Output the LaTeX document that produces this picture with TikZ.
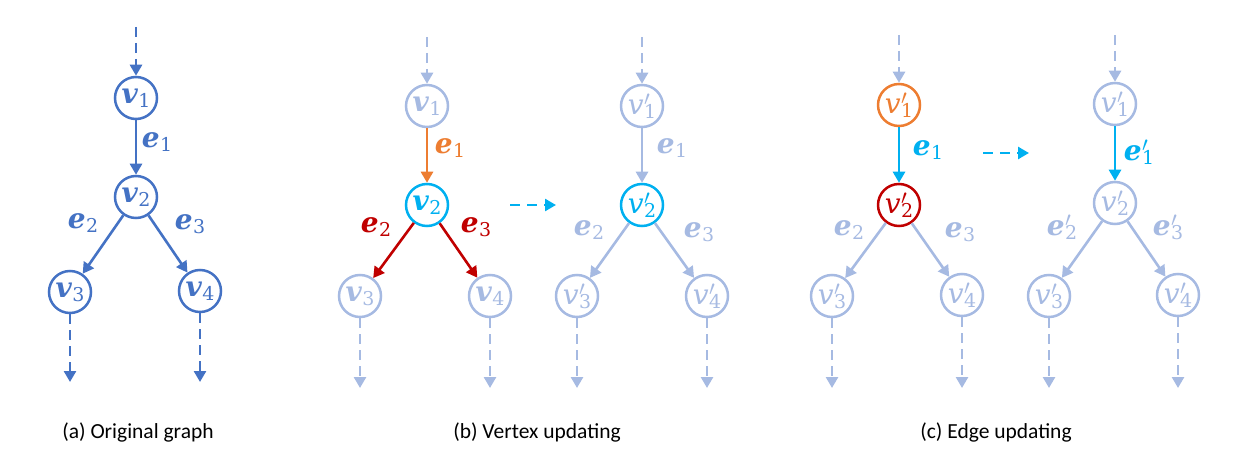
\documentclass[tikz,border=0pt]{standalone}
\usepackage{fontspec}
\setmainfont{Carlito}
\newfontfamily\mf{DejaVu Serif}
\usetikzlibrary{arrows.meta}
\definecolor{cblue}{HTML}{4472C4}
\definecolor{clight}{HTML}{A6BAE2}
\definecolor{corange}{HTML}{ED7D31}
\definecolor{cred}{HTML}{C00000}
\definecolor{ccyan}{HTML}{00B0F0}
\newcommand\subf{\fontsize{19}{19}\selectfont\mf\upshape\mdseries}
\newcommand\vfont{\fontsize{28}{28}\selectfont\mf\itshape}
\newcommand\efont{\fontsize{28}{28}\selectfont\mf\itshape\bfseries}
\newcommand\prm{\rlap{\raisebox{9pt}{\fontsize{21}{21}\selectfont$\prime$}}}
\newcommand\vl[1]{\mbox{{\vfont\bfseries v}\kern0.5pt\raisebox{-4pt}{\subf #1}}}
\newcommand\vp[1]{\mbox{{\vfont v}\kern0.5pt\prm\raisebox{-4pt}{\subf #1}}}
\newcommand\el[1]{\mbox{{\efont e}\kern0.5pt\raisebox{-4pt}{\subf #1}}}
\newcommand\ep[1]{\mbox{{\efont e}\kern0.5pt\prm\raisebox{-4pt}{\subf #1}}}
\tikzset{
  vx/.style={circle, draw=#1, text=#1, line width=2.5pt, minimum size=42pt, inner sep=0pt},
  ed/.style={draw=#1, line width=2.6pt, -{Triangle[length=11pt,width=12pt]}},
  dsh/.style={draw=#1, line width=2.6pt, dash pattern=on 10pt off 6pt, -{Triangle[length=11pt,width=12pt]}},
  lb/.style={text=#1, inner sep=0pt},
  capt/.style={font=\fontsize{21.5}{24}\selectfont, anchor=base, inner sep=0pt}
}
\begin{document}
\begin{tikzpicture}[x=1pt,y=-1pt]
\useasboundingbox (0,0) rectangle (1244,465);
% ---------- (a)
\node[vx=cblue] (a1) at (136,98) {\vl1};
\node[vx=cblue] (a2) at (136,197) {\vl2};
\node[vx=cblue] (a3) at (70,292) {\vl3};
\node[vx=cblue] (a4) at (200,291) {\vl4};
\coordinate (a0) at (136,27);
\coordinate (a3e) at (70,382);
\coordinate (a4e) at (200,382);
\draw[dsh=cblue] (a0) -- (a1);
\draw[ed=cblue] (a1) -- (a2);
\draw[ed=cblue] (a2) -- (a3);
\draw[ed=cblue] (a2) -- (a4);
\draw[dsh=cblue] (a3) -- (a3e);
\draw[dsh=cblue] (a4) -- (a4e);
\node[lb=cblue] (ae1) at (157,142) {\el1};
\node[lb=cblue] (ae2) at (83,223) {\el2};
\node[lb=cblue] (ae3) at (190,224) {\el3};
% ---------- (b) left
\node[vx=clight] (b1) at (427,106) {\vl1};
\node[vx=ccyan] (b2) at (427,205) {\vl2};
\node[vx=clight] (b3) at (360,296) {\vl3};
\node[vx=clight] (b4) at (490,296) {\vl4};
\coordinate (b0) at (427,37);
\coordinate (b3e) at (360,388);
\coordinate (b4e) at (490,388);
\draw[dsh=clight] (b0) -- (b1);
\draw[ed=corange] (b1) -- (b2);
\draw[ed=cred] (b2) -- (b3);
\draw[ed=cred] (b2) -- (b4);
\draw[dsh=clight] (b3) -- (b3e);
\draw[dsh=clight] (b4) -- (b4e);
\node[lb=corange] (be1) at (450,148) {\el1};
\node[lb=cred] (be2) at (376,227) {\el2};
\node[lb=cred] (be3) at (476,227) {\el3};
% arrow
\coordinate (bx1) at (510,205);
\coordinate (bx2) at (556,205);
\draw[dsh=ccyan, dash pattern=on 10pt off 7pt] (bx1) -- (bx2);
% ---------- (b) right
\node[vx=clight] (c1) at (642,106) {\vp1};
\node[vx=ccyan] (c2) at (642,205) {\vp2};
\node[vx=clight] (c3) at (577,296) {\vp3};
\node[vx=clight] (c4) at (707,296) {\vp4};
\coordinate (c0) at (642,37);
\coordinate (c3e) at (577,388);
\coordinate (c4e) at (707,388);
\draw[dsh=clight] (c0) -- (c1);
\draw[ed=clight] (c1) -- (c2);
\draw[ed=clight] (c2) -- (c3);
\draw[ed=clight] (c2) -- (c4);
\draw[dsh=clight] (c3) -- (c3e);
\draw[dsh=clight] (c4) -- (c4e);
\node[lb=clight] (ce1) at (672,148) {\el1};
\node[lb=clight] (ce2) at (589,230) {\el2};
\node[lb=clight] (ce3) at (699,232) {\el3};
% ---------- (c) left
\node[vx=corange] (d1) at (899,105) {\vp1};
\node[vx=cred] (d2) at (899,205) {\vp2};
\node[vx=clight] (d3) at (832,296) {\vp3};
\node[vx=clight] (d4) at (962,295) {\vp4};
\coordinate (d0) at (899,35);
\coordinate (d3e) at (832,388);
\coordinate (d4e) at (962,388);
\draw[dsh=clight] (d0) -- (d1);
\draw[ed=ccyan] (d1) -- (d2);
\draw[ed=clight] (d2) -- (d3);
\draw[ed=clight] (d2) -- (d4);
\draw[dsh=clight] (d3) -- (d3e);
\draw[dsh=clight] (d4) -- (d4e);
\node[lb=ccyan] (de1) at (928,150) {\el1};
\node[lb=clight] (de2) at (849,230) {\el2};
\node[lb=clight] (de3) at (960,232) {\el3};
% arrow
\coordinate (dx1) at (983,153);
\coordinate (dx2) at (1029,153);
\draw[dsh=ccyan, dash pattern=on 10pt off 7pt] (dx1) -- (dx2);
% ---------- (c) right
\node[vx=clight] (f1) at (1115,104) {\vp1};
\node[vx=clight] (f2) at (1115,203) {\vp2};
\node[vx=clight] (f3) at (1049,296) {\vp3};
\node[vx=clight] (f4) at (1178,295) {\vp4};
\coordinate (f0) at (1115,35);
\coordinate (f3e) at (1049,388);
\coordinate (f4e) at (1178,388);
\draw[dsh=clight] (f0) -- (f1);
\draw[ed=ccyan] (f1) -- (f2);
\draw[ed=clight] (f2) -- (f3);
\draw[ed=clight] (f2) -- (f4);
\draw[dsh=clight] (f3) -- (f3e);
\draw[dsh=clight] (f4) -- (f4e);
\node[lb=ccyan] (fe1) at (1139,152) {\ep1};
\node[lb=clight] (fe2) at (1062,227) {\ep2};
\node[lb=clight] (fe3) at (1168,227) {\ep3};
% ---------- captions
\node[capt] (capa) at (138,438) {(a) Original graph};
\node[capt] (capb) at (537,438) {(b) Vertex updating};
\node[capt] (capc) at (996,438) {(c) Edge updating};
\end{tikzpicture}
\end{document}
